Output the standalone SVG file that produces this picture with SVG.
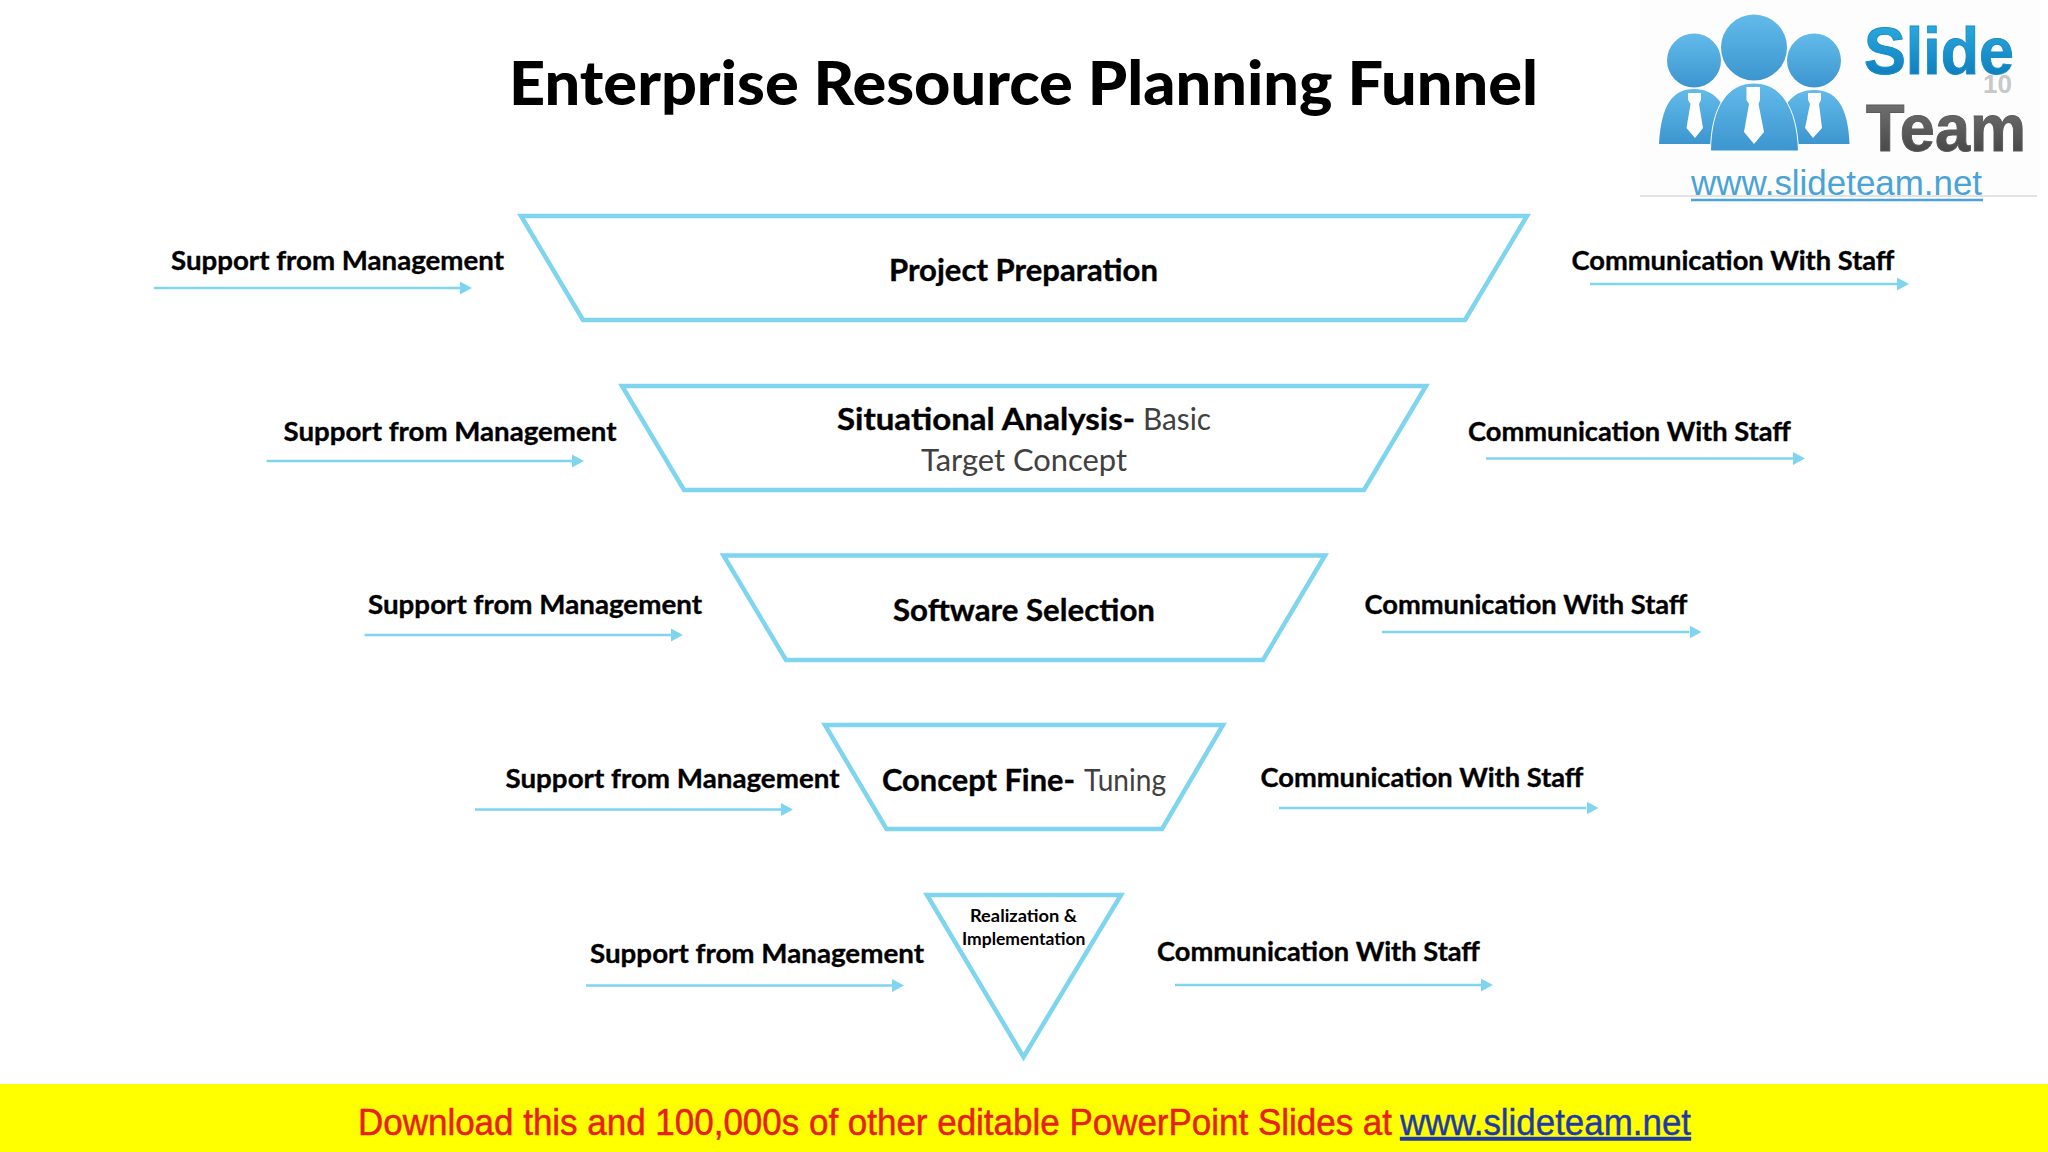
<svg xmlns="http://www.w3.org/2000/svg" width="2048" height="1152" viewBox="0 0 2048 1152">
<style>
text{font-family:"Lato","Liberation Sans",sans-serif;fill:#000}
.b{font-weight:700}
.ti{font-weight:900}
.lab{font-weight:700;font-size:27.5px;stroke:#000;stroke-width:.35}
.nd{font-weight:700;font-size:30.5px;stroke:#000;stroke-width:.35}
.lt{font-weight:400;font-size:30.5px;fill:#404040}
.shape{fill:#fff;stroke:#7fd5f0;stroke-width:4.5}
.conn{stroke:#7fd5f0;stroke-width:2.5;fill:none;marker-end:url(#arrow)}
.ar{font-family:"Liberation Sans",Arial,sans-serif}
</style>
<defs>
<marker id="arrow" markerUnits="userSpaceOnUse" markerWidth="13" markerHeight="16" refX="0" refY="8" orient="auto"><path d="M0 1.500L12 8L0 14.500Z" fill="#7fd5f0"/></marker>
<linearGradient id="gPerson" x1="0" y1="0" x2="0" y2="1"><stop offset="0" stop-color="#62bbea"/><stop offset="1" stop-color="#3d95cf"/></linearGradient>
<linearGradient id="gSlide" x1="0" y1="0" x2="0" y2="1"><stop offset="0" stop-color="#2fb4e6"/><stop offset="1" stop-color="#0a74b4"/></linearGradient>
<linearGradient id="gTeam" x1="0" y1="0" x2="0" y2="1"><stop offset="0" stop-color="#7c7c7c"/><stop offset="1" stop-color="#3e3e3e"/></linearGradient>
</defs>
<rect width="2048" height="1152" fill="#fff"/>
<text id="title" class="ti" x="509" y="105" font-size="61" textLength="1029" lengthAdjust="spacingAndGlyphs">Enterprise Resource Planning Funnel</text>

<g id="logo">
<rect x="1640" y="0" width="400" height="196" fill="#fdfdfd"/>
<line x1="1640" y1="196" x2="2037" y2="196" stroke="#c9c9c9" stroke-width="1"/>
<circle cx="1694" cy="60.500" r="27" fill="url(#gPerson)"/>
<circle cx="1814" cy="60.500" r="27" fill="url(#gPerson)"/>
<path d="M1659 144C1661 106 1672 89 1694 89C1716 89 1730 106 1732 144Z" fill="url(#gPerson)"/>
<path d="M1776 144C1778 106 1792 90 1814 90C1836 90 1848 106 1849.500 144Z" fill="url(#gPerson)"/>
<circle cx="1754" cy="47.500" r="33" fill="url(#gPerson)"/>
<path d="M1710.500 151C1711 106 1728 83 1754 83C1780 83 1797 106 1798.500 151Z" fill="url(#gPerson)" stroke="#fdfdfd" stroke-width="1"/>
<path d="M1688 93H1701V100L1699 104L1703 128L1695 138L1686.500 128L1690.500 104L1688 100Z" fill="#fff"/>
<path d="M1746.500 87H1760V100L1758.500 104L1764 132L1754 144L1744 132L1749 104L1746.500 100Z" fill="#fff"/>
<path d="M1808 93H1821V100L1819 104L1822 128L1813 138L1805 128L1810 104L1808 100Z" fill="#fff"/>
<text class="ar" x="1864" y="74" font-size="67" font-weight="700" style="fill:url(#gSlide);stroke:#1a8cc8;stroke-width:1" textLength="150" lengthAdjust="spacingAndGlyphs">Slide</text>
<text class="ar" x="1866" y="150.500" font-size="67" font-weight="700" style="fill:url(#gTeam);stroke:#5a5a5a;stroke-width:1" textLength="160" lengthAdjust="spacingAndGlyphs">Team</text>
<text class="ar" x="1983" y="93" font-size="26" font-weight="700" style="fill:#c8c8c8">10</text>
<text class="ar" x="1691" y="195" font-size="35" style="fill:#4aa3d6" textLength="291" lengthAdjust="spacingAndGlyphs">www.slideteam.net</text>
<line x1="1691" y1="200" x2="1983" y2="200" stroke="#4aa3d6" stroke-width="2.500"/>
</g>

<g id="node-project-preparation">
<polygon class="shape" points="521,216 1527,216 1465,320 583,320"/>
<text class="nd" x="889" y="280.500" textLength="269" lengthAdjust="spacingAndGlyphs">Project Preparation</text>
</g>
<g id="node-situational-analysis">
<polygon class="shape" points="622,386 1426,386 1364,490 684,490"/>
<text class="nd" x="837" y="430" textLength="298" lengthAdjust="spacingAndGlyphs">Situational Analysis-</text>
<text class="lt" x="1143" y="430" textLength="68" lengthAdjust="spacingAndGlyphs">Basic</text>
<text class="lt" x="921" y="471" textLength="206" lengthAdjust="spacingAndGlyphs">Target Concept</text>
</g>
<g id="node-software-selection">
<polygon class="shape" points="723.500,555.500 1325,555.500 1263,660 786,660"/>
<text class="nd" x="893" y="620.500" textLength="262" lengthAdjust="spacingAndGlyphs">Software Selection</text>
</g>
<g id="node-concept-fine-tuning">
<polygon class="shape" points="825,725 1223,725 1162,829 886.500,829"/>
<text class="nd" x="882" y="790.500" textLength="193" lengthAdjust="spacingAndGlyphs">Concept Fine-</text>
<text class="lt" x="1084" y="790.500" textLength="82" lengthAdjust="spacingAndGlyphs">Tuning</text>
</g>
<g id="node-realization-implementation">
<polygon class="shape" points="927,895 1121,895 1023.500,1057"/>
<text class="b" font-size="16.500" x="970" y="922" textLength="107" lengthAdjust="spacingAndGlyphs">Realization &amp;</text>
<text class="b" font-size="16.500" x="962" y="945" textLength="123.500" lengthAdjust="spacingAndGlyphs">Implementation</text>
</g>

<g id="labels">
<text class="lab" x="171" y="269.500" textLength="333" lengthAdjust="spacingAndGlyphs">Support from Management</text>
<text class="lab" x="283.500" y="441" textLength="333" lengthAdjust="spacingAndGlyphs">Support from Management</text>
<text class="lab" x="368" y="613.500" textLength="334" lengthAdjust="spacingAndGlyphs">Support from Management</text>
<text class="lab" x="505.500" y="788" textLength="334" lengthAdjust="spacingAndGlyphs">Support from Management</text>
<text class="lab" x="590" y="963" textLength="334" lengthAdjust="spacingAndGlyphs">Support from Management</text>
<text class="lab" x="1571.500" y="270" textLength="323" lengthAdjust="spacingAndGlyphs">Communication With Staff</text>
<text class="lab" x="1468" y="441" textLength="323" lengthAdjust="spacingAndGlyphs">Communication With Staff</text>
<text class="lab" x="1364.500" y="613.500" textLength="323" lengthAdjust="spacingAndGlyphs">Communication With Staff</text>
<text class="lab" x="1260.500" y="787" textLength="323" lengthAdjust="spacingAndGlyphs">Communication With Staff</text>
<text class="lab" x="1157" y="961" textLength="323" lengthAdjust="spacingAndGlyphs">Communication With Staff</text>
</g>

<g id="connectors">
<line class="conn" x1="154" y1="288" x2="460" y2="288"/>
<line class="conn" x1="266.500" y1="461" x2="572" y2="461"/>
<line class="conn" x1="364.500" y1="635" x2="671" y2="635"/>
<line class="conn" x1="475" y1="809.500" x2="781" y2="809.500"/>
<line class="conn" x1="586" y1="985.500" x2="892" y2="985.500"/>
<line class="conn" x1="1590" y1="284" x2="1897" y2="284"/>
<line class="conn" x1="1486" y1="458.500" x2="1793" y2="458.500"/>
<line class="conn" x1="1382" y1="632" x2="1689.500" y2="632"/>
<line class="conn" x1="1279" y1="808" x2="1586.500" y2="808"/>
<line class="conn" x1="1175" y1="985" x2="1481" y2="985"/>
</g>

<g id="banner">
<rect x="0" y="1084" width="2048" height="68" fill="#ffff00"/>
<text class="ar" x="358" y="1135" font-size="36" style="fill:#e8201c;stroke:#e8201c;stroke-width:.5" textLength="1034" lengthAdjust="spacingAndGlyphs">Download this and 100,000s of other editable PowerPoint Slides at</text>
<text class="ar" x="1400" y="1135" font-size="36" style="fill:#1f3aa8;stroke:#1f3aa8;stroke-width:.4" textLength="291" lengthAdjust="spacingAndGlyphs" text-decoration="underline">www.slideteam.net</text>
</g>
</svg>
